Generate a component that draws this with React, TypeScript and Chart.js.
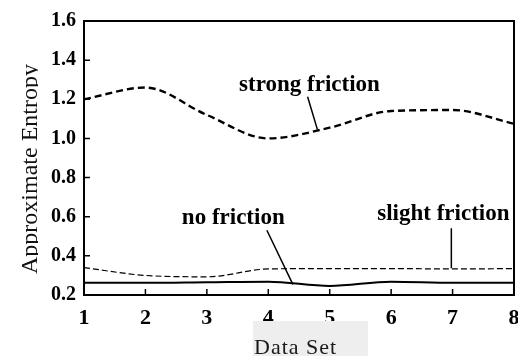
import React, { useEffect, useRef } from "react";
import { Chart, registerables } from "chart.js";

Chart.register(...registerables);

const dataSets = [1, 2, 3, 4, 5, 6, 7, 8];
const strongFriction = [1.2, 1.26, 1.12, 1.0, 1.055, 1.14, 1.145, 1.075];
const slightFriction = [0.34, 0.3, 0.293, 0.333, 0.335, 0.335, 0.333, 0.335];
const noFriction = [0.262, 0.262, 0.265, 0.268, 0.246, 0.268, 0.262, 0.262];
const yTicks = [0.2, 0.4, 0.6, 0.8, 1.0, 1.2, 1.4, 1.6];
const xTicks = [1, 2, 3, 4, 5, 6, 7, 8];

const yTitle = "Approximate Entropy";
const xTitle = "Data Set";

// labels with leader lines, in data coordinates
const labelTexts = ["strong friction", "no friction", "slight friction"];
const labelAt = [
  [4.67, 1.244],
  [3.43, 0.565],
  [6.85, 0.582],
];
const leaderFrom = [
  [4.64, 1.213],
  [3.977, 0.531],
  [6.98, 0.541],
];
const leaderTo = [
  [4.8, 1.045],
  [4.4, 0.254],
  [6.98, 0.337],
];

const SERIF = "'Liberation Serif', 'Times New Roman', serif";

const decorPlugin = {
  id: "decor",
  afterDraw(chart: any) {
    const { ctx, chartArea, scales } = chart;
    const xs = scales.x;
    const ys = scales.y;
    ctx.save();
    ctx.strokeStyle = "#000";
    ctx.fillStyle = "#000";
    // frame
    ctx.lineWidth = 2;
    ctx.strokeRect(
      chartArea.left,
      chartArea.top,
      chartArea.right - chartArea.left,
      chartArea.bottom - chartArea.top
    );
    // inward ticks
    ctx.lineWidth = 1.5;
    ctx.beginPath();
    yTicks.forEach((v) => {
      const py = ys.getPixelForValue(v);
      ctx.moveTo(chartArea.left, py);
      ctx.lineTo(chartArea.left + 6, py);
    });
    xTicks.forEach((v) => {
      const px = xs.getPixelForValue(v);
      ctx.moveTo(px, chartArea.bottom);
      ctx.lineTo(px, chartArea.bottom - 6);
    });
    ctx.stroke();

    // annotations
    ctx.font = `bold 23px ${SERIF}`;
    ctx.textAlign = "center";
    ctx.textBaseline = "alphabetic";
    labelTexts.forEach((t, i) => {
      ctx.fillText(t, xs.getPixelForValue(labelAt[i][0]), ys.getPixelForValue(labelAt[i][1]));
    });
    ctx.lineWidth = 1.5;
    ctx.beginPath();
    leaderFrom.forEach((p, i) => {
      ctx.moveTo(xs.getPixelForValue(p[0]), ys.getPixelForValue(p[1]));
      ctx.lineTo(xs.getPixelForValue(leaderTo[i][0]), ys.getPixelForValue(leaderTo[i][1]));
    });
    ctx.stroke();

    // y title (descenders clipped like the reference)
    ctx.save();
    ctx.beginPath();
    ctx.rect(0, 0, 38, chart.height);
    ctx.clip();
    ctx.translate(37, 169);
    ctx.rotate(-Math.PI / 2);
    ctx.font = `24px ${SERIF}`;
    ctx.textAlign = "center";
    ctx.textBaseline = "alphabetic";
    ctx.fillStyle = "#111";
    ctx.fillText(yTitle, 0, 0);
    ctx.restore();

    // x title box
    ctx.fillStyle = "#eeeeee";
    ctx.fillRect(253, 321, 115, chart.height - 321);
    ctx.fillStyle = "#1a1a1a";
    ctx.font = `22px ${SERIF}`;
    ctx.textAlign = "left";
    ctx.textBaseline = "alphabetic";
    (ctx as any).letterSpacing = "1px";
    ctx.fillText(xTitle, 254, 354);
    (ctx as any).letterSpacing = "0px";
    ctx.restore();
  },
};

export default function App() {
  const ref = useRef<HTMLCanvasElement | null>(null);
  useEffect(() => {
    if (!ref.current) return;
    const mk = (arr: number[]) => dataSets.map((x, i) => ({ x, y: arr[i] }));
    const chart = new Chart(ref.current, {
      type: "line",
      data: {
        datasets: [
          {
            label: "strong friction",
            data: mk(strongFriction),
            borderColor: "#000",
            borderWidth: 2.4,
            borderDash: [7, 4],
            pointRadius: 0,
            cubicInterpolationMode: "monotone",
            fill: false,
          },
          {
            label: "slight friction",
            data: mk(slightFriction),
            borderColor: "#000",
            borderWidth: 1.2,
            borderDash: [6, 3],
            pointRadius: 0,
            cubicInterpolationMode: "monotone",
            fill: false,
          },
          {
            label: "no friction",
            data: mk(noFriction),
            borderColor: "#000",
            borderWidth: 2,
            pointRadius: 0,
            cubicInterpolationMode: "monotone",
            fill: false,
          },
        ],
      },
      options: {
        animation: false,
        responsive: false,
        maintainAspectRatio: false,
        layout: { padding: { left: 0, right: 4, top: 21, bottom: 0 } },
        plugins: { legend: { display: false }, tooltip: { enabled: false } },
        scales: {
          x: {
            type: "linear",
            min: 1,
            max: 8,
            grid: { display: false, drawTicks: false },
            border: { display: false },
            ticks: {
              stepSize: 1,
              padding: 10,
              color: "#000",
              font: { family: SERIF, size: 22, weight: "bold" },
              maxRotation: 0,
            },
            afterFit: (s: any) => {
              s.height = 61;
              s.paddingLeft = 0;
              s.paddingRight = 0;
            },
          },
          y: {
            type: "linear",
            min: 0.2,
            max: 1.6,
            grid: { display: false, drawTicks: false },
            border: { display: false },
            ticks: {
              stepSize: 0.2,
              padding: 8,
              color: "#000",
              font: { family: SERIF, size: 20, weight: "bold" },
              callback: (v: any) => Number(v).toFixed(1),
            },
            afterFit: (s: any) => {
              s.width = 84;
              s.paddingTop = 0;
              s.paddingBottom = 0;
            },
          },
        },
      },
      plugins: [decorPlugin],
    });
    return () => chart.destroy();
  }, []);
  return (
    <div style={{ position: "absolute", left: 0, top: 0, width: 518, height: 356, background: "#fff" }}>
      <canvas ref={ref} width={518} height={356} style={{ width: 518, height: 356 }} />
    </div>
  );
}
